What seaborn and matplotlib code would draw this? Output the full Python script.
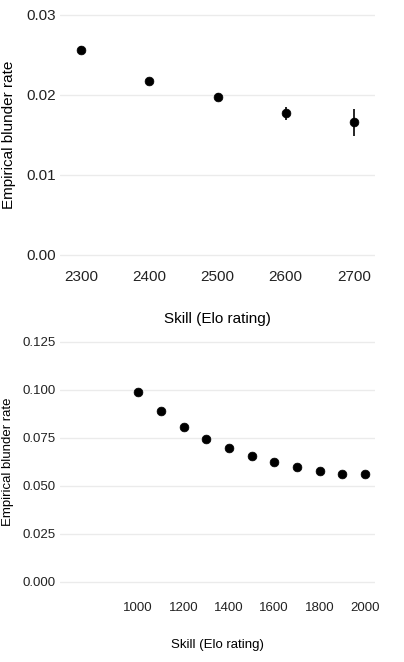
import matplotlib
matplotlib.use("Agg")
import matplotlib.pyplot as plt
import seaborn as sns
import pandas as pd

top_skill = [2300, 2400, 2500, 2600, 2700]
top_rate = [0.0256, 0.0217, 0.0198, 0.0177, 0.0166]
top_err = [0.0005, 0.0004, 0.0004, 0.0008, 0.0017]

bot_skill = [1000, 1100, 1200, 1300, 1400, 1500, 1600, 1700, 1800, 1900, 2000]
bot_rate = [0.099, 0.089, 0.0805, 0.0745, 0.0700, 0.0655, 0.0625, 0.0597, 0.0577, 0.0565, 0.0560]

sns.set_theme(style="white")
plt.rcParams["font.family"] = ["Liberation Sans", "DejaVu Sans"]

fig = plt.figure(figsize=(4.04, 6.62), dpi=100)
ax1 = fig.add_axes([0.149, 1 - 267 / 662, 0.779, 264 / 662])
ax2 = fig.add_axes([0.149, 1 - 594 / 662, 0.779, 264 / 662])

grid_c = "#ebebeb"
txt_c = "#222222"

df1 = pd.DataFrame({"skill": top_skill, "rate": top_rate, "err": top_err})
ax1.errorbar(df1["skill"], df1["rate"], yerr=df1["err"], fmt="none", ecolor="black", elinewidth=1.2)
sns.scatterplot(data=df1, x="skill", y="rate", ax=ax1, color="black", s=40, edgecolor="black", zorder=3)
ax1.set_xlim(2269, 2731)
ax1.set_ylim(-0.0015, 0.0315)
ax1.set_yticks([0, 0.01, 0.02, 0.03])
ax1.set_yticklabels(["0.00", "0.01", "0.02", "0.03"])
ax1.set_xticks(top_skill)

df2 = pd.DataFrame({"skill": bot_skill, "rate": bot_rate})
sns.scatterplot(data=df2, x="skill", y="rate", ax=ax2, color="black", s=40, edgecolor="black", zorder=3)
ax2.set_xlim(656, 2044)
ax2.set_ylim(-0.00625, 0.13125)
ax2.set_yticks([0, 0.025, 0.05, 0.075, 0.1, 0.125])
ax2.set_yticklabels(["0.000", "0.025", "0.050", "0.075", "0.100", "0.125"])
ax2.set_xticks(range(1000, 2001, 200))

for ax, fs, lx, xpad, lpad in ((ax1, 11, -0.14, 2, 20), (ax2, 9.5, -0.148, 6, 18)):
    for s in ax.spines.values():
        s.set_visible(False)
    ax.grid(axis="y", color=grid_c, linewidth=1)
    ax.grid(axis="x", visible=False)
    ax.set_axisbelow(True)
    ax.tick_params(axis="y", length=0, labelsize=fs, labelcolor=txt_c, pad=3)
    ax.tick_params(axis="x", length=0, labelsize=fs, labelcolor=txt_c, pad=xpad)
    ax.set_xlabel("Skill (Elo rating)", fontsize=fs, color="black", labelpad=lpad)
    ax.set_ylabel("Empirical blunder rate", fontsize=fs, color="black")
    ax.yaxis.set_label_coords(lx, 0.5)

fig.savefig("out.png", dpi=100)
